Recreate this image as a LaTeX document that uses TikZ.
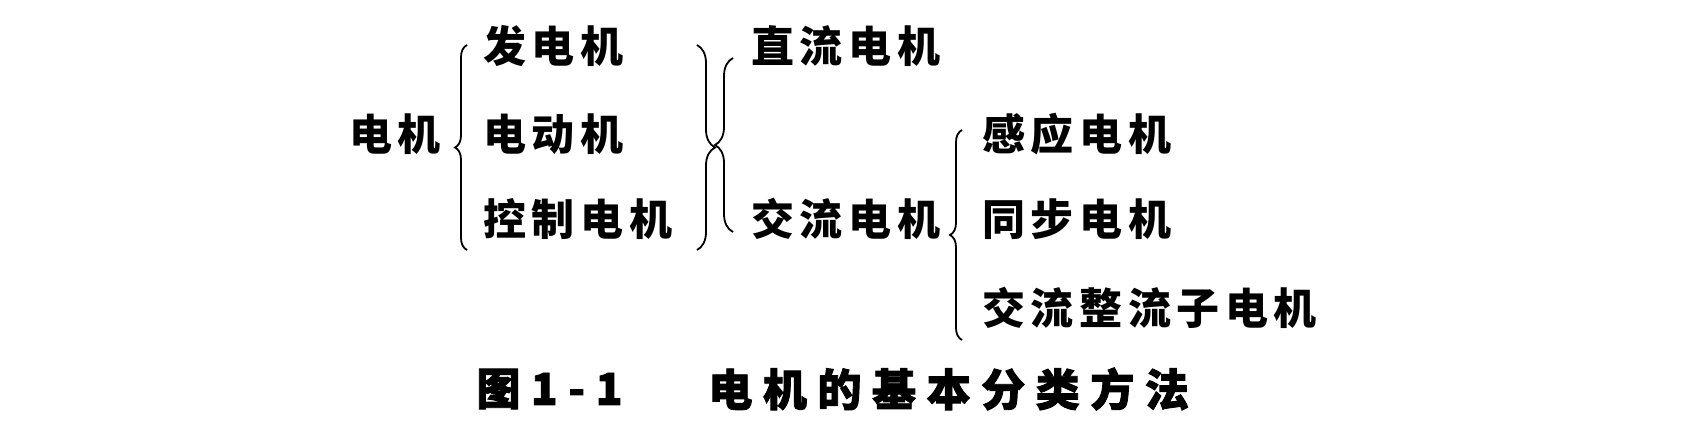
\documentclass[tikz,border=0pt]{standalone}
\usepackage{fontspec}
\newfontfamily\cjk[LetterSpace=13]{Noto Sans CJK SC}
\newfontfamily\cjkcap[LetterSpace=24, FakeBold=2]{Noto Sans CJK SC}
\usetikzlibrary{decorations.pathreplacing}
\tikzset{
  item/.style={anchor=west, inner sep=0pt, font=\cjk\bfseries\fontsize{21.5}{21.5}\selectfont},
  capt/.style={anchor=west, inner sep=0pt, font=\cjkcap\bfseries\fontsize{22}{22}\selectfont},
  bracket/.style={decorate, decoration={brace, amplitude=6pt}, line width=.9pt},
}
\begin{document}
\begin{tikzpicture}[x=.5pt, y=-.5pt]
      \useasboundingbox (0, 0) rectangle (1683, 423);
      % nodes
      \node[item] (motor) at (349, 134) {电机};
      \node[item] (gen) at (483, 46) {发电机};
      \node[item] (mot) at (483, 134) {电动机};
      \node[item] (ctrl) at (483, 219) {控制电机};
      \node[item] (dc) at (751, 46) {直流电机};
      \node[item] (ac) at (751, 219) {交流电机};
      \node[item] (ind) at (982, 134) {感应电机};
      \node[item] (syn) at (982, 219) {同步电机};
      \node[item] (comm) at (982, 308) {交流整流子电机};
      % caption
      \node[capt] (fig) at (476, 389) {图1-1};
      \node[capt] (title) at (708, 389) {电机的基本分类方法};
      % braces
      \draw[bracket] (467, 250) -- (467, 45);
      \draw[bracket, decoration={amplitude=9pt}] (697, 45) -- (697, 250);
      \draw[bracket, decoration={amplitude=9pt}] (733, 232) -- (733, 58);
      \draw[bracket] (962, 340) -- (962, 130);
    \end{tikzpicture}
\end{document}
